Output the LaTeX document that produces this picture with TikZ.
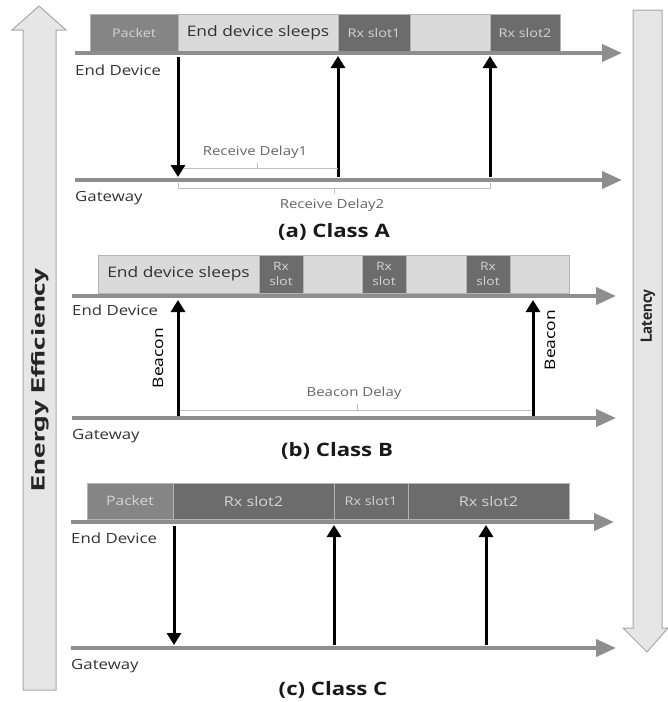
\documentclass[tikz,border=0pt]{standalone}
\usepackage{fontspec}
\setmainfont{Open Sans}[FakeStretch=1.2]
\newfontfamily\sidefont{PT Sans}
\newfontfamily\widesidefont{PT Sans}[FakeStretch=1.62]
\usetikzlibrary{arrows.meta}

\definecolor{axisgray}{HTML}{8E8E8E}
\definecolor{slotdark}{HTML}{6C6C6C}
\definecolor{packgray}{HTML}{858585}
\definecolor{sleeplight}{HTML}{DADADA}
\definecolor{segline}{HTML}{B4B4B4}
\definecolor{slottext}{HTML}{D4D4D4}
\definecolor{bigfill}{HTML}{E6E6E6}
\definecolor{bigline}{HTML}{A8A8A8}
\definecolor{delayline}{HTML}{BEBEBE}
\definecolor{delaytext}{HTML}{666666}

\tikzset{
  timeaxis/.style={draw=axisgray, line width=4pt, -{Triangle[length=20pt,width=17pt]}},
  msg/.style={draw=black, line width=3pt, -{Triangle[length=12pt,width=14pt]}},
  seg/.style={anchor=north west, inner sep=0pt, outer sep=0pt, draw=segline, line width=0.6pt},
  darkseg/.style={seg, fill=slotdark, text=slottext, font=\fontsize{12}{13}\selectfont},
  packseg/.style={seg, fill=packgray, text=slottext, font=\fontsize{12}{13}\selectfont},
  lightseg/.style={seg, fill=sleeplight, text=black!80, font=\fontsize{14.5}{15}\selectfont},
  rxsmall/.style={darkseg, align=center, font=\fontsize{11.5}{15}\selectfont},
  lanelabel/.style={anchor=west, inner sep=0pt, text=black!80, font=\fontsize{14}{15}\selectfont},
  delay/.style={draw=delayline, line width=1pt},
  delaylabel/.style={inner sep=0pt, text=delaytext, font=\fontsize{12.5}{13}\selectfont},
  classlabel/.style={inner sep=0pt, text=black!90, font=\bfseries\fontsize{18.5}{19}\selectfont},
  bigarrow/.style={draw=bigline, fill=bigfill, line width=1pt},
  beaconlabel/.style={inner sep=0pt, rotate=90, font=\fontsize{14.5}{15}\selectfont}
}

\begin{document}
\begin{tikzpicture}[x=1pt, y=-1pt]
\useasboundingbox (0,0) rectangle (668,702);

% side arrows: energy efficiency (up) and latency (down)
\draw[bigarrow] (23,690) -- (23,30) -- (12,30) -- (39,6) -- (66,30) -- (56,30) -- (56,690) -- cycle;
\node[rotate=90, inner sep=0pt, font=\widesidefont\bfseries\fontsize{19}{20}\selectfont, text=black!85] (energy) at (40,380) {Energy Efficiency};
\draw[bigarrow] (633,10) -- (662,10) -- (662,628) -- (668,628) -- (647,652) -- (623,628) -- (633,628) -- cycle;
\node[rotate=90, inner sep=0pt, font=\sidefont\bfseries\fontsize{16}{17}\selectfont, text=black!85] (latency) at (648,316) {Latency};

% ---------------- Class A ----------------
\node[packseg, minimum width=88pt, minimum height=37pt] (aPack) at (90,14) {Packet};
\node[lightseg, minimum width=160pt, minimum height=37pt] (aSleep) at (178,14) {End device sleeps};
\node[darkseg, minimum width=72pt, minimum height=37pt] (aRx1) at (338,14) {Rx slot1};
\node[lightseg, minimum width=80pt, minimum height=37pt] (aGap) at (410,14) {};
\node[darkseg, minimum width=70pt, minimum height=37pt] (aRx2) at (490,14) {Rx slot2};

\coordinate (aEDs) at (75,53);  \coordinate (aEDe) at (622,53);
\coordinate (aGWs) at (75,180); \coordinate (aGWe) at (622,180);
\draw[timeaxis] (aEDs) -- (aEDe);
\draw[timeaxis] (aGWs) -- (aGWe);
\node[lanelabel] (aED) at (75,70) {End Device};
\node[lanelabel] (aGW) at (75,198) {Gateway};

\coordinate (aT0) at (178,57);  \coordinate (aT0g) at (178,177);
\coordinate (aT1) at (338,56);  \coordinate (aT1g) at (338,177);
\coordinate (aT2) at (490,56);  \coordinate (aT2g) at (490,177);
\draw[msg] (aT0) -- (aT0g);
\draw[msg] (aT1g) -- (aT1);
\draw[msg] (aT2g) -- (aT2);

% receive delays
\coordinate (rd1s) at (184,168); \coordinate (rd1e) at (338,168);
\draw[delay] (rd1s) -- (rd1e);
\draw[delay] (257,168) -- (257,163);
\node[delaylabel] (rd1) at (255,152) {Receive Delay1};
\coordinate (rd2s) at (178,188); \coordinate (rd2e) at (490,188);
\draw[delay] (178,183) -- (rd2s) -- (rd2e) -- (490,183);
\draw[delay] (334,188) -- (334,194);
\node[delaylabel] (rd2) at (332,205) {Receive Delay2};

\node[classlabel] (capA) at (334,232) {(a) Class A};

% ---------------- Class B ----------------
\node[lightseg, minimum width=161pt, minimum height=38pt] (bSleep) at (98,255) {End device sleeps};
\node[rxsmall, minimum width=44pt, minimum height=38pt] (bRx1) at (259,255) {Rx\\slot};
\node[lightseg, minimum width=59pt, minimum height=38pt] (bGap1) at (303,255) {};
\node[rxsmall, minimum width=44pt, minimum height=38pt] (bRx2) at (362,255) {Rx\\slot};
\node[lightseg, minimum width=60pt, minimum height=38pt] (bGap2) at (406,255) {};
\node[rxsmall, minimum width=44pt, minimum height=38pt] (bRx3) at (466,255) {Rx\\slot};
\node[lightseg, minimum width=59pt, minimum height=38pt] (bGap3) at (510,255) {};

\coordinate (bEDs) at (72,296);  \coordinate (bEDe) at (616,296);
\coordinate (bGWs) at (72,418);  \coordinate (bGWe) at (616,418);
\draw[timeaxis] (bEDs) -- (bEDe);
\draw[timeaxis] (bGWs) -- (bGWe);
\node[lanelabel] (bED) at (72,310) {End Device};
\node[lanelabel] (bGW) at (72,436) {Gateway};

\coordinate (bB1) at (178,300);  \coordinate (bB1g) at (178,416);
\coordinate (bB2) at (533,300);  \coordinate (bB2g) at (533,416);
\draw[msg] (bB1g) -- (bB1);
\draw[msg] (bB2g) -- (bB2);
\node[beaconlabel] (bcn1) at (158,358) {Beacon};
\node[beaconlabel] (bcn2) at (550,340) {Beacon};

\coordinate (bds) at (180,410); \coordinate (bde) at (531,410);
\draw[delay] (bds) -- (bde);
\draw[delay] (357,410) -- (357,404);
\node[delaylabel] (bdl) at (354,393) {Beacon Delay};

\node[classlabel] (capB) at (337,451) {(b) Class B};

% ---------------- Class C ----------------
\node[packseg, minimum width=86pt, minimum height=36pt, font=\fontsize{13}{14}\selectfont] (cPack) at (87,483) {Packet};
\node[darkseg, minimum width=161pt, minimum height=36pt, font=\fontsize{13.5}{14}\selectfont] (cRx2a) at (173,483) {Rx slot2};
\node[darkseg, minimum width=74pt, minimum height=36pt] (cRx1) at (334,483) {Rx slot1};
\node[darkseg, minimum width=161pt, minimum height=36pt, font=\fontsize{13.5}{14}\selectfont] (cRx2b) at (408,483) {Rx slot2};

\coordinate (cEDs) at (71,522);  \coordinate (cEDe) at (614,522);
\coordinate (cGWs) at (71,648);  \coordinate (cGWe) at (616,648);
\draw[timeaxis] (cEDs) -- (cEDe);
\draw[timeaxis] (cGWs) -- (cGWe);
\node[lanelabel] (cED) at (71,538) {End Device};
\node[lanelabel] (cGW) at (71,666) {Gateway};

\coordinate (cT0) at (174,526);  \coordinate (cT0g) at (174,645);
\coordinate (cT1) at (334,525);  \coordinate (cT1g) at (334,645);
\coordinate (cT2) at (486,525);  \coordinate (cT2g) at (486,645);
\draw[msg] (cT0) -- (cT0g);
\draw[msg] (cT1g) -- (cT1);
\draw[msg] (cT2g) -- (cT2);

\node[classlabel] (capC) at (333,690) {(c) Class C};
\end{tikzpicture}
\end{document}
